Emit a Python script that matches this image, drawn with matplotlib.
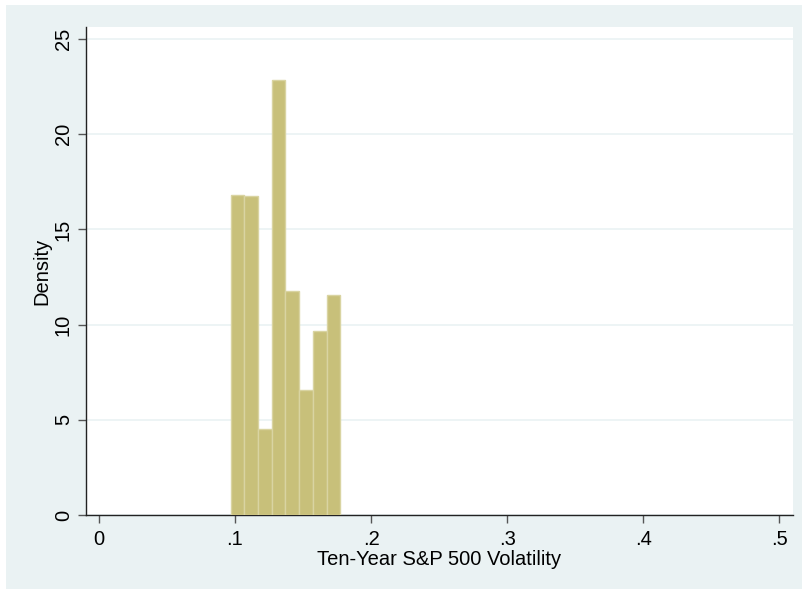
import matplotlib.pyplot as plt
from matplotlib.patches import Rectangle

# Histogram bins (left edges) and densities
bin_left = [0.0967, 0.1068, 0.1169, 0.1270, 0.1371, 0.1472, 0.1573, 0.1674]
bin_width = 0.0101
density = [16.8, 16.75, 4.5, 22.85, 11.75, 6.55, 9.65, 11.55]

x_ticks = [0, 0.1, 0.2, 0.3, 0.4, 0.5]
x_labels = ["0", ".1", ".2", ".3", ".4", ".5"]
y_ticks = [0, 5, 10, 15, 20, 25]

parameters = {
    "fontsize": 14.5,
    "background": "#EAF2F3",
    "bar color": "#C8C07A",
    "edge color": "#D9D4A2",
}

plt.rcParams["font.family"] = ["Liberation Sans", "DejaVu Sans"]

fig = plt.figure(figsize=(8.03, 5.89), dpi=100)
fig.patch.set_facecolor("white")
# Stata style outer region
fig.patches.append(Rectangle((6 / 803, 0), 1, 1 - 5 / 589,
                             transform=fig.transFigure,
                             facecolor=parameters["background"],
                             edgecolor="none", zorder=-10))
ax = fig.add_axes([86 / 803, 1 - 515 / 589,
                   (793 - 86) / 803, (515 - 27) / 589])
ax.set_facecolor("white")

ax.bar(bin_left, density, width=bin_width, align="edge",
       color=parameters["bar color"],
       edgecolor=parameters["edge color"], linewidth=1, zorder=3)

ax.set_xlim((86 - 98.9) / 1361, (793 - 98.9) / 1361)
ax.set_ylim(0, (515 - 27) / 19.04)

ax.set_xticks(x_ticks, x_labels, fontsize=parameters["fontsize"])
ax.set_yticks(y_ticks, [str(t) for t in y_ticks],
              fontsize=parameters["fontsize"], rotation=90, va="center")
ax.tick_params(direction="out", length=5.5, width=1, color="#555555")
ax.tick_params(axis="x", pad=5)
ax.tick_params(axis="y", pad=4)
ax.grid(axis="y", color=parameters["background"], lw=1.2, zorder=0)

for side in ["top", "right"]:
    ax.spines[side].set_visible(False)
for side in ["left", "bottom"]:
    ax.spines[side].set_color("#222222")
    ax.spines[side].set_linewidth(1)

ax.set_xlabel("Ten-Year S&P 500 Volatility",
              fontsize=parameters["fontsize"], labelpad=1)
ax.set_ylabel("Density", fontsize=parameters["fontsize"], labelpad=2)

plt.savefig("out.png", dpi=100)
